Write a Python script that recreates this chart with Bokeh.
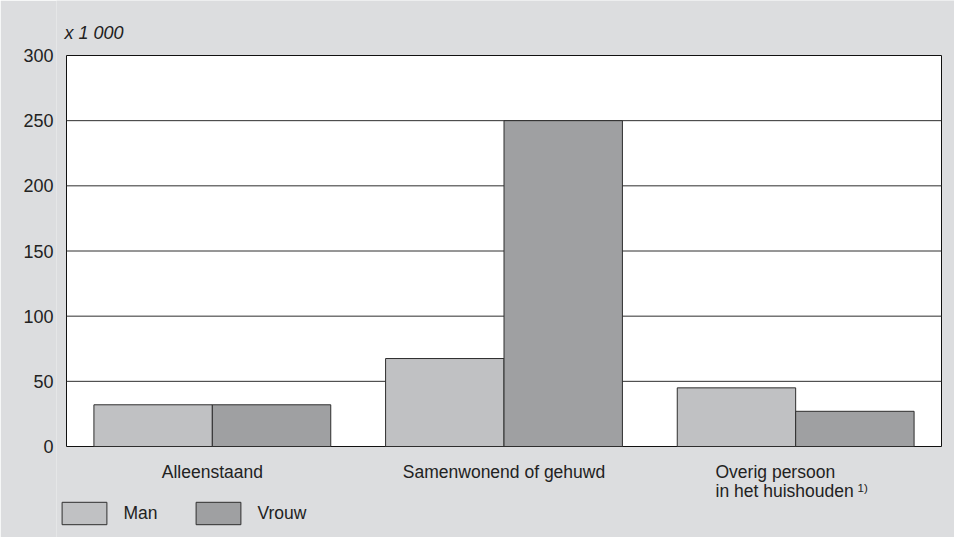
from bokeh.plotting import figure
from bokeh.models import Range1d, Legend, LegendItem, FixedTicker
from bokeh.core.properties import value
from bokeh.embed import file_html
from bokeh.resources import INLINE

categories = ["Alleenstaand", "Samenwonend of gehuwd", "Overig persoon"]
category_line2 = ["", "", "in het huishouden"]
footnote = ["", "", "1)"]
man = [32, 67.5, 45]
vrouw = [32, 250, 27]
series_names = ["Man", "Vrouw"]
y_ticks = [0, 50, 100, 150, 200, 250, 300]
unit_label = "x 1 000"

FONT = "Liberation Sans"
BG = "#dcdddf"
C_MAN = "#c0c1c3"
C_VROUW = "#9fa0a2"
TXT = "#222222"
EDGE = "#2e2e2e"

n = len(categories)
ymax = y_ticks[-1]

p = figure(width=954, height=537, output_backend="svg", toolbar_location=None,
           x_range=Range1d(-0.03429, n + 0.04457), y_range=Range1d(-69.82, 342.2),
           x_axis_location=None, min_border=0, min_border_left=56)
p.background_fill_color = BG
p.border_fill_color = BG
p.outline_line_color = None
p.xgrid.visible = False
p.ygrid.visible = False

# plotting area
p.quad(left=[0], right=[n], bottom=[y_ticks[0]], top=[ymax],
       fill_color="white", line_color="#111111", line_width=1)
# gridlines
inner = y_ticks[1:-1]
p.segment(x0=[0] * len(inner), x1=[n] * len(inner), y0=inner, y1=inner,
          line_color=EDGE, line_width=1)

centers = [i + 0.5 for i in range(n)]
bw = 0.406
r_man = p.vbar(x=[c - bw / 2 for c in centers], width=bw, top=man, bottom=0,
               fill_color=C_MAN, line_color=EDGE, line_width=1)
r_vrouw = p.vbar(x=[c + bw / 2 for c in centers], width=bw, top=vrouw, bottom=0,
                 fill_color=C_VROUW, line_color=EDGE, line_width=1)

ya = p.yaxis[0]
ya.ticker = FixedTicker(ticks=y_ticks)
ya.axis_line_color = None
ya.major_tick_line_color = None
ya.minor_tick_line_color = None
ya.major_tick_out = 0
ya.major_tick_in = 0
ya.major_label_standoff = 3
ya.major_label_text_font = FONT
ya.major_label_text_font_size = "18px"
ya.major_label_text_color = TXT

# category labels
single = [i for i in range(n) if not category_line2[i]]
multi = [i for i in range(n) if category_line2[i]]
p.text(x=[centers[i] for i in single], y=[-19.6] * len(single),
       text=[categories[i] for i in single], text_align="center",
       text_baseline="alphabetic", text_font=value(FONT), text_font_size="17.5px",
       text_color=TXT)
p.text(x=[centers[i] - 0.2749 for i in multi], y=[-19.6] * len(multi),
       text=[categories[i] for i in multi], text_align="left",
       text_baseline="alphabetic", text_font=value(FONT), text_font_size="17.5px",
       text_color=TXT)
p.text(x=[centers[i] - 0.2749 for i in multi], y=[-34.5] * len(multi),
       text=[category_line2[i] for i in multi], text_align="left",
       text_baseline="alphabetic", text_font=value(FONT), text_font_size="17.5px",
       text_color=TXT)
p.text(x=[centers[i] - 0.2749 for i in multi], y=[-31.5] * len(multi),
       text=[footnote[i] for i in multi], x_offset=142, text_align="left",
       text_baseline="alphabetic", text_font=value(FONT), text_font_size="11.5px",
       text_color=TXT)

# unit label
p.text(x=[0], y=[317.3], text=[unit_label], x_offset=-2, text_align="left",
       text_baseline="alphabetic", text_font=value(FONT), text_font_size="18px",
       text_font_style="italic", text_color=TXT)

legend = Legend(items=[LegendItem(label=series_names[0], renderers=[r_man]),
                       LegendItem(label=series_names[1], renderers=[r_vrouw])],
                orientation="horizontal", location=(0.4, 10),
                glyph_width=56, glyph_height=28, label_standoff=11, label_width=55,
                spacing=12, padding=0, margin=0,
                border_line_color=None, background_fill_alpha=0,
                label_text_font=FONT, label_text_font_size="17.5px", label_text_color=TXT)
p.add_layout(legend)

open("out.html", "w").write(file_html(p, INLINE))
